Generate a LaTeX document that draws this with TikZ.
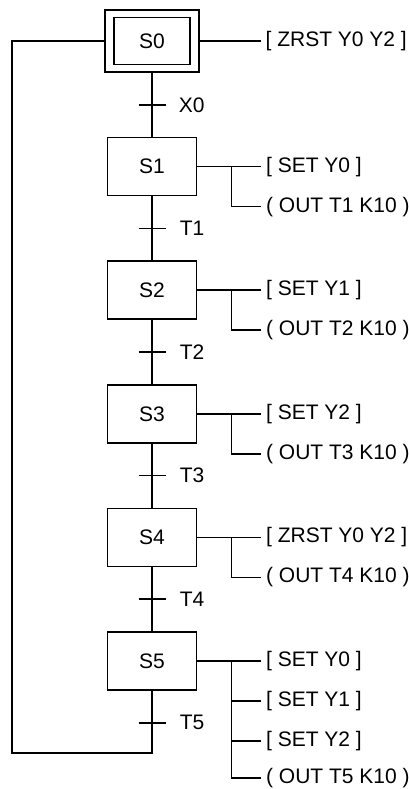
\documentclass[tikz,border=0pt]{standalone}
\usepackage{fontspec}
\setmainfont{Liberation Sans}
\usetikzlibrary{positioning, calc}

\begin{document}
\begin{tikzpicture}[x=1pt, y=-1pt, node distance=64pt, line width=1.6pt,
    every node/.style={font=\fontsize{21}{24}\selectfont},
    stepbox/.style={draw, line width=1.6pt, minimum width=89pt, minimum height=58pt},
    act/.style={anchor=west, inner sep=4pt},
    trans/.style={anchor=west, inner sep=0pt}]
    \useasboundingbox (0,0) rectangle (409,789);

    % steps
    \node[stepbox, minimum width=94pt, minimum height=62pt] (s0o) at (152,41) {};
    \node[stepbox, minimum width=76pt, minimum height=47pt] (s0) at (s0o) {S0};
    \node[stepbox, below=of s0o] (s1) {S1};
    \node[stepbox, below=of s1] (s2) {S2};
    \node[stepbox, below=of s2] (s3) {S3};
    \node[stepbox, below=of s3] (s4) {S4};
    \node[stepbox, below=of s4] (s5) {S5};

    % transitions
    \coordinate (x0) at ($(s0o.south)!0.5!(s1.north)$);
    \coordinate (t1) at ($(s1.south)!0.5!(s2.north)$);
    \coordinate (t2) at ($(s2.south)!0.5!(s3.north)$);
    \coordinate (t3) at ($(s3.south)!0.5!(s4.north)$);
    \coordinate (t4) at ($(s4.south)!0.5!(s5.north)$);
    \coordinate (t5) at ($(s5.south)+(0,32)$);
    \coordinate (back) at ($(s5.south)+(0,62)$);

    \draw (s0o) -- (s1) -- (s2) -- (s3) -- (s4) -- (s5);
    \draw (s5) -- (back) -| ($(s0o.west)+(-92,0)$) -- (s0o);
    \foreach \t in {x0,t1,t2,t3,t4,t5}
        \draw ([xshift=-13.5pt]\t) -- ([xshift=13.5pt]\t);

    \node[trans] (lx0) at ($(x0)+(26,0)$) {X0};
    \node[trans] (lt1) at ($(t1)+(27,0)$) {T1};
    \node[trans] (lt2) at ($(t2)+(27,0)$) {T2};
    \node[trans] (lt3) at ($(t3)+(27,0)$) {T3};
    \node[trans] (lt4) at ($(t4)+(27,0)$) {T4};
    \node[trans] (lt5) at ($(t5)+(27,0)$) {T5};

    % actions
    \node[act, right=61pt of s0o.east] (a0) {[ ZRST Y0 Y2 ]};
    \draw (s0o) -- (a0);

    \node[act, right=64pt of s1.east] (a1) {[ SET Y0 ]};
    \node[act] (o1) at ($(a1.west)+(0,40)$) {( OUT T1 K10 )};
    \coordinate (b1) at ($(s1.east)+(34,0)$);
    \draw (s1) -- (a1);
    \draw (b1) |- (o1.west);

    \node[act, right=64pt of s2.east] (a2) {[ SET Y1 ]};
    \node[act] (o2) at ($(a2.west)+(0,40)$) {( OUT T2 K10 )};
    \coordinate (b2) at ($(s2.east)+(34,0)$);
    \draw (s2) -- (a2);
    \draw (b2) |- (o2.west);

    \node[act, right=64pt of s3.east] (a3) {[ SET Y2 ]};
    \node[act] (o3) at ($(a3.west)+(0,40)$) {( OUT T3 K10 )};
    \coordinate (b3) at ($(s3.east)+(34,0)$);
    \draw (s3) -- (a3);
    \draw (b3) |- (o3.west);

    \node[act, right=64pt of s4.east] (a4) {[ ZRST Y0 Y2 ]};
    \node[act] (o4) at ($(a4.west)+(0,40)$) {( OUT T4 K10 )};
    \coordinate (b4) at ($(s4.east)+(34,0)$);
    \draw (s4) -- (a4);
    \draw (b4) |- (o4.west);

    \node[act, right=64pt of s5.east] (a5) {[ SET Y0 ]};
    \node[act] (a5b) at ($(a5.west)+(0,40)$) {[ SET Y1 ]};
    \node[act] (a5c) at ($(a5.west)+(0,80)$) {[ SET Y2 ]};
    \node[act] (o5) at ($(a5.west)+(0,117)$) {( OUT T5 K10 )};
    \coordinate (b5) at ($(s5.east)+(34,0)$);
    \draw (s5) -- (a5);
    \draw (b5) |- (a5b.west);
    \draw (b5) |- (a5c.west);
    \draw (b5) |- (o5.west);
\end{tikzpicture}
\end{document}
